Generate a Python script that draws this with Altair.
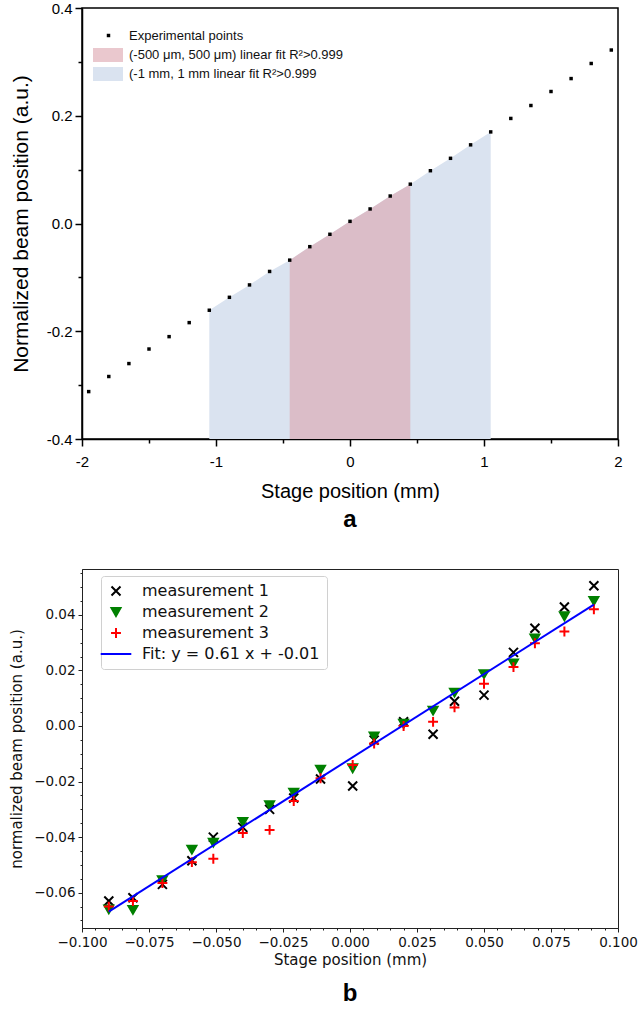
import altair as alt
import pandas as pd

# ---------------- panel a data ----------------
stage_mm = [-1.95, -1.80, -1.65, -1.50, -1.35, -1.20, -1.05, -0.90, -0.75, -0.60,
            -0.45, -0.30, -0.15, 0.00, 0.15, 0.30, 0.45, 0.60, 0.75, 0.90,
            1.05, 1.20, 1.35, 1.50, 1.65, 1.80, 1.95]
beam_pos = [-0.312, -0.284, -0.260, -0.233, -0.210, -0.184, -0.161, -0.137, -0.114, -0.089,
            -0.068, -0.043, -0.020, 0.004, 0.027, 0.051, 0.073, 0.098, 0.121, 0.146,
            0.170, 0.195, 0.219, 0.245, 0.269, 0.297, 0.322]
POINTS_LABEL = "Experimental points"
RED_LABEL = "(-500 \u03bcm, 500 \u03bcm) linear fit R\u00b2>0.999"
BLUE_LABEL = "(-1 mm, 1 mm linear fit R\u00b2>0.999"
red_range_mm = [-0.45, 0.45]
blue_range_mm = [-1.05, 1.05]

x_ticks_a = [-2, -1.5, -1, -0.5, 0, 0.5, 1, 1.5, 2]
y_ticks_a = [-0.4, -0.3, -0.2, -0.1, 0.0, 0.1, 0.2, 0.3, 0.4]

# ---------------- panel b data ----------------
meas_x = [-0.090, -0.081, -0.070, -0.059, -0.051, -0.040, -0.030, -0.021, -0.011, 0.001,
          0.009, 0.020, 0.031, 0.039, 0.050, 0.061, 0.069, 0.080, 0.091]
meas1 = [-0.0630, -0.0618, -0.0570, -0.0485, -0.0400, -0.0365, -0.0300, -0.0259, -0.0191, -0.0216,
         -0.0051, 0.0015, -0.0030, 0.0089, 0.0111, 0.0265, 0.0352, 0.0428, 0.0505]
meas2 = [-0.0660, -0.0662, -0.0555, -0.0445, -0.0420, -0.0345, -0.0285, -0.0240, -0.0157, -0.0152,
         -0.0037, 0.0008, 0.0055, 0.0120, 0.0187, 0.0225, 0.0315, 0.0395, 0.0450]
meas3 = [-0.0650, -0.0630, -0.0565, -0.0490, -0.0478, -0.0385, -0.0374, -0.0270, -0.0188, -0.0140,
         -0.0063, 0.0000, 0.0015, 0.0067, 0.0152, 0.0212, 0.0298, 0.0340, 0.0420]
fit_x = [-0.090, 0.091]
fit_y = [-0.0668, 0.0437]
SERIES = ["measurement 1", "measurement 2", "measurement 3", "Fit: y = 0.61 x + -0.01"]

x_ticks_b = [round(-0.1 + i * 0.005, 3) + 0.0 for i in range(41)]
y_ticks_b = [round(-0.07 + i * 0.005, 3) + 0.0 for i in range(26)]

# ---------------- panel a ----------------
FA = "Liberation Sans"
dfa = pd.DataFrame({"x": stage_mm, "y": beam_pos, "lab": POINTS_LABEL})
blue_df = dfa[(dfa.x >= blue_range_mm[0] - 1e-9) & (dfa.x <= blue_range_mm[1] + 1e-9)].assign(region=BLUE_LABEL)
red_df = dfa[(dfa.x >= red_range_mm[0] - 1e-9) & (dfa.x <= red_range_mm[1] + 1e-9)].assign(region=RED_LABEL)

axis_common_a = dict(labelFont=FA, titleFont=FA, labelFontSize=15,
                     titleFontWeight="normal", domainColor="black", domainWidth=1.5,
                     tickColor="black", tickWidth=1.5, labelColor="black", titleColor="black",
                     grid=False, labelFlush=False, labelOverlap=False)

xa = alt.X("x:Q", scale=alt.Scale(domain=[-2, 2], nice=False, zero=False),
           axis=alt.Axis(values=x_ticks_a, title="Stage position (mm)", titleFontSize=20,
                         labelExpr="abs(datum.value-round(datum.value))<0.001 ? replace(format(datum.value,'d'),'\u2212','-') : ''",
                         tickSize={"condition": {"test": "abs(datum.value-round(datum.value))<0.001", "value": 7}, "value": 4},
                         labelPadding=8, titlePadding=12, **axis_common_a))
ya = alt.Y("y:Q", scale=alt.Scale(domain=[-0.4, 0.4], nice=False, zero=False),
           axis=alt.Axis(values=y_ticks_a, title="Normalized beam position (a.u.)", titleFontSize=21,
                         labelExpr="abs(datum.value*5-round(datum.value*5))<0.001 ? replace(format(datum.value,'.1f'),'\u2212','-') : ''",
                         tickSize={"condition": {"test": "abs(datum.value*5-round(datum.value*5))<0.001", "value": 7}, "value": 4},
                         labelPadding=3, titlePadding=15, **axis_common_a))

region_legend = alt.Legend(orient="none", legendX=18.5, legendY=39.5, title=None,
                           symbolType="M-2,-0.93L2,-0.93L2,0.93L-2,0.93Z", symbolSize=225,
                           symbolStrokeWidth=0, labelFont=FA, labelFontSize=13, labelColor="#111",
                           labelOffset=13.5, rowPadding=4, padding=0, labelLimit=500)
region_domain = [RED_LABEL, BLUE_LABEL]
region_color = alt.Scale(domain=region_domain, range=["#dca3ae", "#dae3f0"])
region_opacity = alt.Scale(domain=region_domain, range=[0.6, 1.0])

blue_area = alt.Chart(blue_df).mark_area(interpolate="linear").encode(
    x=xa, y=ya, y2=alt.datum(-0.4),
    color=alt.Color("region:N", scale=region_color, legend=region_legend),
    opacity=alt.Opacity("region:N", scale=region_opacity, legend=region_legend),
)
red_area = alt.Chart(red_df).mark_area(interpolate="linear").encode(
    x=xa, y=ya, y2=alt.datum(-0.4),
    color=alt.Color("region:N", scale=region_color, legend=region_legend),
    opacity=alt.Opacity("region:N", scale=region_opacity, legend=region_legend),
)
pts = alt.Chart(dfa).mark_point(filled=True, size=12, color="black", opacity=1).encode(
    x=xa, y=ya,
    shape=alt.Shape("lab:N", scale=alt.Scale(domain=[POINTS_LABEL], range=["square"]),
                    legend=alt.Legend(orient="none", legendX=20, legendY=21, title=None,
                                      symbolSize=12, symbolFillColor="black", symbolStrokeWidth=0,
                                      labelFont=FA, labelFontSize=13, labelColor="#111",
                                      labelOffset=14, padding=0, labelLimit=500)),
)

panel_a = alt.layer(blue_area, red_area, pts).properties(
    width=536, height=431,
    view=alt.ViewBackground(stroke="black", strokeWidth=1.5),
    title=alt.TitleParams("a", orient="bottom", fontSize=24, fontWeight="bold", font=FA,
                          color="black", anchor="middle", frame="group", offset=7),
)

# ---------------- panel b ----------------
FB = "DejaVu Sans"
dfb = pd.DataFrame({
    "x": meas_x * 3,
    "y": meas1 + meas2 + meas3,
    "series": [SERIES[0]] * len(meas_x) + [SERIES[1]] * len(meas_x) + [SERIES[2]] * len(meas_x),
})
dff = pd.DataFrame({"x": fit_x, "y": fit_y, "series": SERIES[3]})

X_PATH = "M-1,-1L1,1M-1,1L1,-1"
PLUS_PATH = "M0,-1.1L0,1.1M-1.1,0L1.1,0"
FIT_PATH = "M-3.4,0L3.4,0"
series_colors = ["black", "green", "red", "#0000ff"]

axis_common_b = dict(labelFont=FB, titleFont=FB, labelFontSize=13.5, titleFontSize=15,
                     titleFontWeight="normal", domainColor="#222", domainWidth=1,
                     tickColor="#222", tickWidth=1, labelColor="#111", titleColor="#111",
                     grid=False, labelFlush=False, labelOverlap=False)

xb = alt.X("x:Q", scale=alt.Scale(domain=[-0.1, 0.1], nice=False, zero=False),
           axis=alt.Axis(values=x_ticks_b, title="Stage position (mm)",
                         labelExpr="abs(datum.value*40-round(datum.value*40))<0.001 ? format(datum.value,'.3f') : ''",
                         tickSize={"condition": {"test": "abs(datum.value*40-round(datum.value*40))<0.001", "value": 4}, "value": 2},
                         labelPadding=3, titlePadding=4, **axis_common_b))
yb = alt.Y("y:Q", scale=alt.Scale(domain=[-0.0727, 0.0565], nice=False, zero=False),
           axis=alt.Axis(values=y_ticks_b, title="normalized beam position (a.u.)",
                         labelExpr="abs(datum.value*50-round(datum.value*50))<0.001 ? format(datum.value,'.2f') : ''",
                         tickSize={"condition": {"test": "abs(datum.value*50-round(datum.value*50))<0.001", "value": 4}, "value": 2},
                         labelPadding=3, titlePadding=9, **axis_common_b))

leg_b = alt.Legend(orient="none", legendX=19, legendY=7, title=None,
                   symbolSize=81, symbolStrokeWidth=2, labelFont=FB, labelFontSize=16,
                   labelColor="#111", labelOffset=18, rowPadding=4, padding=7, labelLimit=500,
                   strokeColor="#d0d0d0", fillColor="rgba(255,255,255,0.85)", cornerRadius=3)
col_scale = alt.Scale(domain=SERIES, range=series_colors)

fit_line = alt.Chart(dff).mark_line(strokeWidth=2).encode(
    x=xb, y=yb, stroke=alt.Stroke("series:N", scale=col_scale, legend=leg_b),
)
meas_pts = alt.Chart(dfb).mark_point(filled=True, size=81, strokeWidth=2, opacity=1).encode(
    x=xb, y=yb,
    fill=alt.Fill("series:N", scale=col_scale, legend=leg_b),
    stroke=alt.Stroke("series:N", scale=col_scale, legend=leg_b),
    shape=alt.Shape("series:N", scale=alt.Scale(domain=SERIES, range=[X_PATH, "triangle-down", PLUS_PATH, FIT_PATH]), legend=leg_b),
)

panel_b = alt.layer(meas_pts, fit_line).properties(
    width=536, height=359,
    view=alt.ViewBackground(stroke="#222", strokeWidth=1),
    title=alt.TitleParams("b", orient="bottom", fontSize=24, fontWeight="bold", font=FA,
                          color="black", anchor="middle", frame="group", offset=14),
)

chart = alt.vconcat(panel_a, panel_b, spacing=32).resolve_scale(
    x="independent", y="independent", color="independent", shape="independent",
    fill="independent", stroke="independent", opacity="independent"
).resolve_legend(color="independent", shape="independent", fill="independent",
                 stroke="independent", opacity="independent").properties(
    padding={"left": 9, "top": 0, "right": 0, "bottom": 0},
    background="white",
)

chart.save("out.html", embed_options={"renderer": "svg", "actions": False})
